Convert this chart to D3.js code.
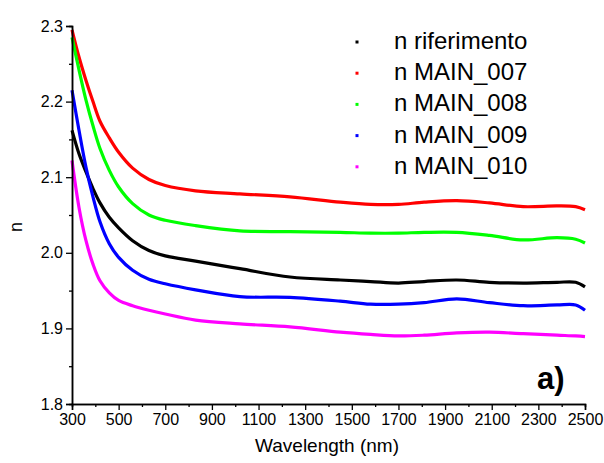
<!DOCTYPE html>
<html>
<head>
<meta charset="utf-8">
<script src="https://cdn.jsdelivr.net/npm/d3@7"></script>
<style>
  body { margin: 0; background: #fff; }
  svg { font-family: Arial, "Liberation Sans", sans-serif; }
</style>
</head>
<body>
<svg id="chart" width="604" height="463"></svg>
<script>
var wavelengths = [300, 330, 360, 390, 420, 460, 500, 560, 630, 700, 830, 1020, 1235, 1450, 1580, 1700, 1810, 1950, 2090, 2235, 2380, 2460, 2500];

var nRiferimento = [2.162, 2.131, 2.107, 2.085, 2.066, 2.047, 2.033, 2.016, 2.003, 1.996, 1.989, 1.979, 1.968, 1.964, 1.962, 1.960, 1.962, 1.964, 1.961, 1.960, 1.961, 1.961, 1.955];
var nMain007 = [2.295, 2.259, 2.228, 2.200, 2.174, 2.152, 2.133, 2.112, 2.097, 2.089, 2.082, 2.078, 2.074, 2.067, 2.064, 2.064, 2.067, 2.069, 2.066, 2.061, 2.062, 2.061, 2.057];
var nMain008 = [2.285, 2.242, 2.202, 2.168, 2.138, 2.109, 2.087, 2.065, 2.050, 2.043, 2.036, 2.029, 2.028, 2.027, 2.026, 2.026, 2.027, 2.027, 2.023, 2.017, 2.020, 2.018, 2.013];
var nMain009 = [2.215, 2.162, 2.113, 2.074, 2.041, 2.012, 1.994, 1.977, 1.965, 1.959, 1.951, 1.942, 1.941, 1.936, 1.932, 1.932, 1.934, 1.939, 1.934, 1.930, 1.931, 1.931, 1.924];
var nMain010 = [2.122, 2.060, 2.016, 1.985, 1.963, 1.947, 1.937, 1.930, 1.924, 1.919, 1.911, 1.906, 1.902, 1.895, 1.892, 1.890, 1.891, 1.894, 1.895, 1.893, 1.891, 1.890, 1.889];

var seriesNames = ['n riferimento', 'n MAIN_007', 'n MAIN_008', 'n MAIN_009', 'n MAIN_010'];
var seriesValues = [nRiferimento, nMain007, nMain008, nMain009, nMain010];
var seriesColors = ['#000000', '#ff0000', '#00ff00', '#0000ff', '#ff00ff'];

var xTicks = [300, 500, 700, 900, 1100, 1300, 1500, 1700, 1900, 2100, 2300, 2500];
var xMinorTicks = [400, 600, 800, 1000, 1200, 1400, 1600, 1800, 2000, 2200, 2400];
var yTicks = [1.8, 1.9, 2.0, 2.1, 2.2, 2.3];
var yMinorTicks = [1.85, 1.95, 2.05, 2.15, 2.25];

var svg = d3.select('#chart');
var plotLeft = 72, plotRight = 585, plotTop = 26, plotBottom = 404;

var x = d3.scaleLinear().domain([300, 2500]).range([plotLeft, plotRight]);
var y = d3.scaleLinear().domain([1.8, 2.3]).range([plotBottom, plotTop]);

// curves first, axes drawn over them
var line = d3.line()
  .x(function(d){ return x(d[0]); })
  .y(function(d){ return y(d[1]); })
  .curve(d3.curveCatmullRom.alpha(0.5));

var plot = svg.append('g');
seriesValues.forEach(function(vals, i){
  plot.append('path')
    .datum(wavelengths.map(function(w, j){ return [w, vals[j]]; }))
    .attr('fill', 'none')
    .attr('stroke', seriesColors[i])
    .attr('stroke-width', 3.2)
    .attr('stroke-linejoin', 'round')
    .attr('d', line);
});

// x axis
var xAxis = svg.append('g').attr('transform', 'translate(0,' + plotBottom + ')');
xAxis.call(d3.axisBottom(x).tickValues(xMinorTicks).tickSize(3).tickFormat(''));
xAxis.append('g').call(d3.axisBottom(x).tickValues(xTicks).tickSize(6).tickPadding(4).tickFormat(d3.format('d')));

// y axis
var yAxis = svg.append('g').attr('transform', 'translate(' + plotLeft + ',0)');
yAxis.call(d3.axisLeft(y).tickValues(yMinorTicks).tickSize(3).tickFormat(''));
yAxis.append('g').call(d3.axisLeft(y).tickValues(yTicks).tickSize(6).tickPadding(3).tickFormat(d3.format('.1f')));

svg.selectAll('.domain').attr('stroke', '#000').attr('stroke-width', 1.5);
svg.selectAll('.tick line').attr('stroke', '#000').attr('stroke-width', 1.3);
svg.selectAll('.tick text')
  .attr('fill', '#000')
  .style('font-size', '16px')
  .style('font-family', 'Arial, "Liberation Sans", sans-serif');

// axis titles
svg.append('text')
  .attr('x', 327)
  .attr('y', 452)
  .attr('text-anchor', 'middle')
  .style('font-size', '19px')
  .text('Wavelength (nm)');

svg.append('text')
  .attr('transform', 'translate(22,227) rotate(-90)')
  .attr('text-anchor', 'middle')
  .style('font-size', '18px')
  .text('n');

// legend
var legend = svg.append('g');
seriesNames.forEach(function(name, i){
  var ly = 42 + i * 31.2;
  legend.append('rect')
    .attr('x', 355.5).attr('y', ly - 1.5)
    .attr('width', 3).attr('height', 3)
    .attr('fill', seriesColors[i]);
  legend.append('text')
    .attr('x', 394).attr('y', ly + 7)
    .style('font-size', '24px')
    .text(name);
});

// panel label
svg.append('text')
  .attr('x', 537).attr('y', 389)
  .style('font-size', '31px')
  .style('font-weight', 'bold')
  .text('a)');
</script>
</body>
</html>
